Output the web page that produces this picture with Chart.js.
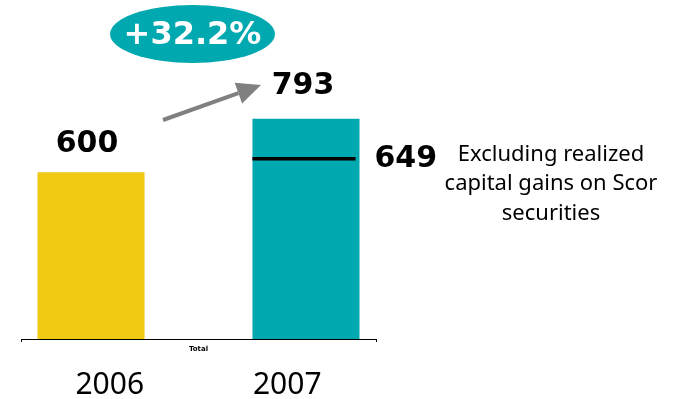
<!DOCTYPE html>
<html>
<head>
<meta charset="utf-8">
<script src="https://cdn.jsdelivr.net/npm/chart.js@4/dist/chart.umd.min.js"></script>
<style>
  html, body { margin: 0; padding: 0; background: #fff; }
  #wrap { width: 684px; height: 399px; position: relative; }
</style>
</head>
<body>
<div id="wrap"><canvas id="resultChart"></canvas></div>
<script>
  // data
  const categories = ['Total'];
  const yearLabels = ['2006', '2007'];
  const values2006 = [600];
  const values2007 = [793];
  const excludingGains2007 = [649];
  const noteLines = ['Excluding realized', 'capital gains on Scor', 'securities'];

  const yellow = '#F0C912';
  const teal = '#00A8B0';
  const grey = '#808080';

  // growth between the two years, shown in the bubble
  var growth = (values2007[0] / values2006[0] - 1) * 100;
  var growthText = '+' + growth.toFixed(1) + '%';

  // draws value labels, the 649 marker, the note, arrow and growth bubble
  const annotations = {
    id: 'annotations',
    afterDatasetsDraw(chart) {
      const ctx = chart.ctx;
      const bar0 = chart.getDatasetMeta(0).data[0];
      const bar1 = chart.getDatasetMeta(1).data[0];
      const yScale = chart.scales.y;

      ctx.save();
      ctx.fillStyle = '#000';
      ctx.textAlign = 'center';
      ctx.textBaseline = 'middle';
      ctx.font = 'bold 30px "DejaVu Sans"';
      ctx.fillText(String(values2006[0]), bar0.x - 4, bar0.y - 28);
      ctx.fillText(String(values2007[0]), bar1.x - 3, bar1.y - 32);

      // marker for the value excluding realized gains
      const yEx = yScale.getPixelForValue(excludingGains2007[0]);
      ctx.strokeStyle = '#000';
      ctx.lineWidth = 3.5;
      ctx.beginPath();
      ctx.moveTo(bar1.x - bar1.width / 2, yEx);
      ctx.lineTo(bar1.x + bar1.width / 2 - 4, yEx);
      ctx.stroke();

      ctx.textAlign = 'left';
      ctx.fillText(String(excludingGains2007[0]), bar1.x + bar1.width / 2 + 15, yEx + 1);

      ctx.textAlign = 'center';
      ctx.font = '22px "Noto Sans"';
      noteLines.forEach(function(line, i) {
        ctx.fillText(line, 551, yEx - 4 + i * 29.5);
      });

      // arrow from 2006 to 2007
      const x1 = 163, y1 = 120, x2 = 261, y2 = 85;
      const ang = Math.atan2(y2 - y1, x2 - x1);
      const headLen = 24, headW = 11;
      const bx = x2 - headLen * Math.cos(ang), by = y2 - headLen * Math.sin(ang);
      ctx.strokeStyle = grey;
      ctx.fillStyle = grey;
      ctx.lineWidth = 4;
      ctx.beginPath();
      ctx.moveTo(x1, y1);
      ctx.lineTo(bx, by);
      ctx.stroke();
      ctx.beginPath();
      ctx.moveTo(x2, y2);
      ctx.lineTo(bx + headW * Math.sin(ang), by - headW * Math.cos(ang));
      ctx.lineTo(bx - headW * Math.sin(ang), by + headW * Math.cos(ang));
      ctx.closePath();
      ctx.fill();

      // growth bubble
      ctx.fillStyle = teal;
      ctx.beginPath();
      ctx.ellipse(192.5, 34, 82.5, 29, 0, 0, Math.PI * 2);
      ctx.fill();
      ctx.fillStyle = '#fff';
      ctx.font = 'bold 32px "DejaVu Sans"';
      ctx.fillText(growthText, 192.5, 36);
      ctx.restore();
    }
  };

  new Chart(document.getElementById('resultChart'), {
    type: 'bar',
    data: {
      labels: categories,
      datasets: [{
        label: yearLabels[0],
        data: values2006,
        backgroundColor: yellow
      }, {
        label: yearLabels[1],
        data: values2007,
        backgroundColor: teal
      }]
    },
    options: {
      responsive: true,
      maintainAspectRatio: false,
      animation: false,
      categoryPercentage: 1.211,
      barPercentage: 0.498,
      layout: { padding: { left: 21, right: 308, top: 0, bottom: 0 } },
      plugins: { legend: { display: false }, tooltip: { enabled: false } },
      scales: {
        y: { display: false, min: 0, max: 1220 },
        x: {
          offset: true,
          grid: { offset: true, drawOnChartArea: false, tickLength: 3, color: '#000' },
          border: { color: '#000', width: 1 },
          ticks: { color: '#000', padding: 3, font: { family: 'DejaVu Sans', size: 7, weight: 'bold' } },
          afterFit: function(scale) { scale.height = 20; }
        },
        x2: {
          type: 'category',
          position: 'bottom',
          labels: yearLabels,
          offset: true,
          grid: { display: false },
          border: { display: false },
          ticks: { color: '#000', padding: 0, font: { family: 'Noto Sans', size: 30 } },
          afterFit: function(scale) { scale.height = 40; }
        }
      }
    },
    plugins: [annotations]
  });
</script>
</body>
</html>
